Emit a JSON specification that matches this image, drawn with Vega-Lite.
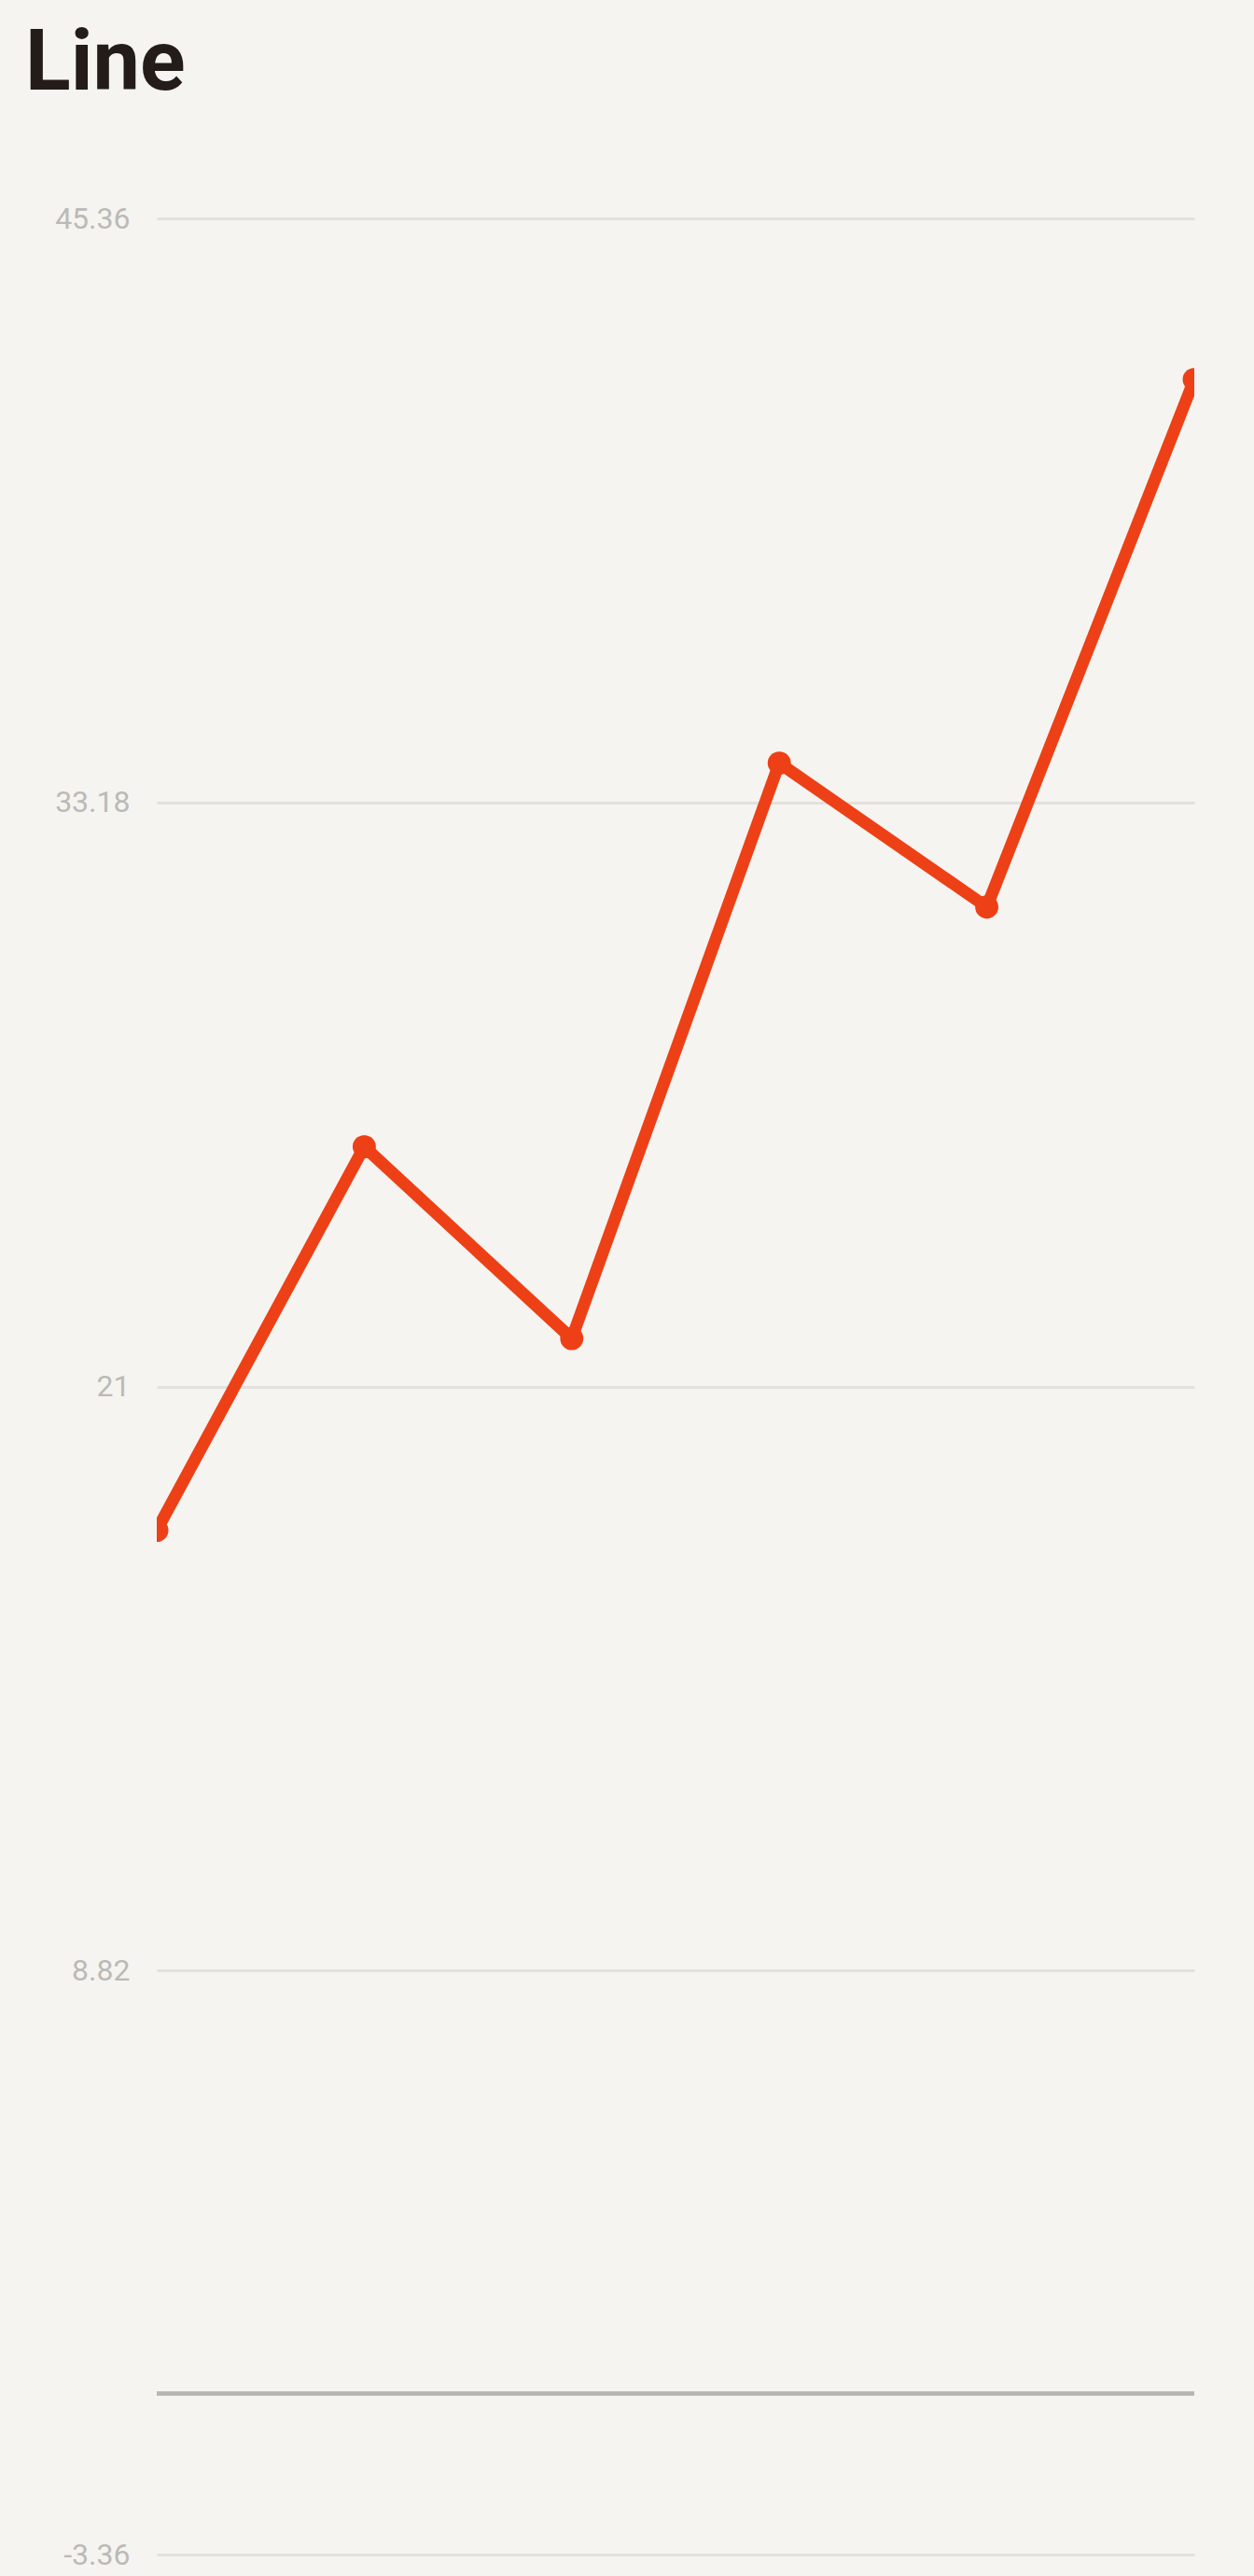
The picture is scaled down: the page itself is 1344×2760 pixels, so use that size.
{
  "$schema": "https://vega.github.io/schema/vega-lite/v6.json",
  "autosize": "none",
  "width": 1112,
  "height": 2503,
  "padding": {"left": 168, "top": 234, "right": 64, "bottom": 23},
  "background": "#F5F4F0",
  "title": {
    "text": "Line",
    "anchor": "start",
    "frame": "group",
    "font": "Roboto",
    "fontSize": 90,
    "fontWeight": "bold",
    "color": "#231C19",
    "baseline": "alphabetic",
    "dx": -141,
    "offset": 32
  },
  "config": {
    "view": {"stroke": null},
    "axis": {"labelFont": "Roboto"}
  },
  "data": {
    "values": [
      {"x": "1", "value": 18},
      {"x": "2", "value": 26},
      {"x": "3", "value": 22},
      {"x": "4", "value": 34},
      {"x": "5", "value": 31},
      {"x": "6", "value": 42}
    ]
  },
  "encoding": {
    "x": {
      "field": "x",
      "type": "ordinal",
      "scale": {"type": "point", "padding": 0},
      "axis": null
    },
    "y": {
      "field": "value",
      "type": "quantitative",
      "scale": {"domain": [-3.36, 45.36], "nice": false, "zero": false},
      "axis": {
        "title": null,
        "values": [-3.36, 8.82, 21, 33.18, 45.36],
        "labelExpr": "'' + datum.value",
        "labelFontSize": 32,
        "labelColor": "#BBBAB7",
        "labelPadding": 29,
        "ticks": false,
        "domain": false,
        "gridColor": "#E2E1DD",
        "gridWidth": 3
      }
    }
  },
  "layer": [
    {
      "mark": {"type": "rule", "color": "#B6B5B1", "strokeWidth": 3.5},
      "encoding": {"x": null, "y": {"datum": 0, "type": "quantitative"}}
    },
    {
      "mark": {
        "type": "line",
        "color": "#EE4016",
        "strokeWidth": 13,
        "strokeJoin": "round",
        "clip": true
      }
    },
    {
      "mark": {
        "type": "point",
        "shape": "circle",
        "filled": true,
        "opacity": 1,
        "color": "#EE4016",
        "size": 620,
        "clip": true
      }
    }
  ]
}
